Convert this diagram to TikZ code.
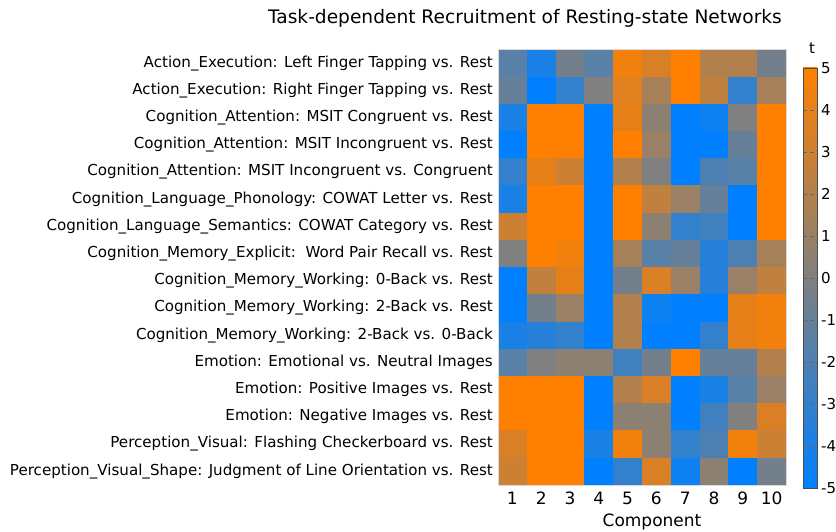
\documentclass[tikz,border=0pt]{standalone}
\usepackage{fontspec}
\setmainfont{DejaVu Sans}
\definecolor{cblue}{RGB}{0,128,255}
\definecolor{corange}{RGB}{255,128,0}
\tikzset{
  rowlabel/.style={anchor=east, inner sep=0pt, font=\fontsize{15.1}{17}\selectfont},
  collabel/.style={inner sep=0pt, font=\fontsize{17}{19}\selectfont},
  ticklabel/.style={anchor=west, inner sep=0pt, font=\fontsize{15}{17}\selectfont},
  titletext/.style={inner sep=0pt, font=\fontsize{18.6}{21}\selectfont}
}
\begin{document}
\begin{tikzpicture}[x=1pt,y=-1pt]

  \def\cw{28.8}
  \def\rh{27.2}
  \def\xo{498}
  \def\yo{49.5}

  \useasboundingbox (0,0) rectangle (836,532);

  \node[titletext] (title) at (525,18) {Task-dependent Recruitment of Resting-state Networks};

  % heatmap cells, one row per contrast
  \foreach \vals [count=\r] in {
      {-1.5,-4,-0.5,-1.5,4.5,3.5,5,2,2,-0.5},
      {-1,-5,-3,0,3.8,1.5,5,2.5,-3,1.5},
      {-4,5,5,-5,4,0.5,-5,-4.5,0,5},
      {-5,5,5,-5,5,1,-5,-5,-1,5},
      {-3,4,3,-5,2,0,-5,-2,-1.5,5},
      {-4,5,5,-5,5,2.5,1,-1,-5,5},
      {3,5,5,-5,5,0.5,-3,-2.5,-5,5},
      {0,5,4.5,-5,1.5,-1.5,-1,-3.5,-2,1.5},
      {-5,2.5,4,-5,-0.5,3.5,1,-3.5,1,2.5},
      {-5,-0.5,1,-5,2,-4.5,-5,-5,4,4.5},
      {-4,-3.5,-3,-5,2,-5,-5,-3,4,4.5},
      {-1.5,0,0.5,0.5,-2.5,-0.5,5,-1,-1,2},
      {5,5,5,-5,2,3.5,-5,-4,-1.5,1},
      {5,5,5,-5,0.5,0.5,-5,-2.5,0,3.5},
      {3.5,5,5,-4,4.5,0.5,-3,-2,4.5,3},
      {3,5,5,-5,-3,3.5,-4.5,0.5,-5,-0.5}}{
    \foreach \v [count=\c] in \vals {
      \pgfmathtruncatemacro\p{(\v+5)*10}
      \fill[corange!\p!cblue] ({\xo+(\c-1)*\cw},{\yo+(\r-1)*\rh}) rectangle ++(\cw,\rh);
    }
  }
  \draw[black!15] (\xo,\yo) rectangle ({\xo+10*\cw},{\yo+16*\rh});

  % row labels
  \foreach \lab [count=\r] in {
      Action\_Execution: Left Finger Tapping vs. Rest,
      Action\_Execution: Right Finger Tapping vs. Rest,
      Cognition\_Attention: MSIT Congruent vs. Rest,
      Cognition\_Attention: MSIT Incongruent vs. Rest,
      Cognition\_Attention: MSIT Incongruent vs. Congruent,
      Cognition\_Language\_Phonology: COWAT Letter vs. Rest,
      Cognition\_Language\_Semantics: COWAT Category vs. Rest,
      Cognition\_Memory\_Explicit:\ \ Word Pair Recall vs. Rest,
      Cognition\_Memory\_Working: 0-Back vs. Rest,
      Cognition\_Memory\_Working: 2-Back vs. Rest,
      Cognition\_Memory\_Working: 2-Back vs. 0-Back,
      Emotion: Emotional vs. Neutral Images,
      Emotion: Positive Images vs. Rest,
      Emotion: Negative Images vs. Rest,
      Perception\_Visual: Flashing Checkerboard vs. Rest,
      Perception\_Visual\_Shape: Judgment of Line Orientation vs. Rest}
    \node[rowlabel] (row\r) at (493,{\yo+(\r-0.5)*\rh}) {\lab};

  % component numbers
  \foreach \c in {1,...,10}
    \node[collabel] (col\c) at ({\xo+(\c-0.5)*\cw},498) {\c};
  \node[collabel] (xlabel) at (652,522) {Component};

  % colour bar
  \shade[bottom color=cblue, top color=corange] (803,68) rectangle (817,488);
  \foreach \t in {-4,...,4}
    \draw[black!60, dashed, dash pattern=on 4pt off 3pt] (803,{278-\t*42}) -- (817,{278-\t*42});
  \draw[black!70] (803,68) rectangle (817,488);
  \foreach \t [count=\i] in {-5,...,5}
    \node[ticklabel] (tick\i) at (821,{278-\t*42}) {\t};
  \node[ticklabel, anchor=center] (tlabel) at (812,48) {t};

\end{tikzpicture}
\end{document}
